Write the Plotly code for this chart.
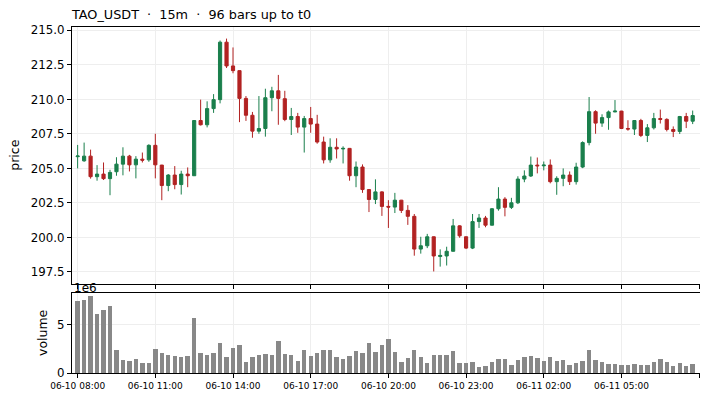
import pandas as pd
import plotly.graph_objects as go
from plotly.subplots import make_subplots

FONT = "DejaVu Sans"
GREEN = "#1a7f4c"
RED = "#b22222"

start = "2024-06-10 08:00"
n_bars = 96

opens = [
    205.85, 205.55, 205.89, 204.40, 204.59, 204.26, 204.76, 205.31, 205.89, 205.26,
    205.67, 205.62, 206.67, 205.24, 203.76, 204.52, 203.83, 204.59, 204.47, 208.47,
    208.16, 209.33, 209.98, 214.14, 212.42, 212.08, 210.07, 208.85, 207.70, 207.89,
    210.12, 210.62, 210.05, 208.54, 208.76, 207.99, 208.61, 208.21, 206.91, 205.62,
    206.53, 206.41, 206.45, 204.47, 205.10, 203.47, 202.75, 203.30, 202.25, 202.20,
    202.70, 201.96, 201.53, 199.16, 199.40, 200.05, 198.62, 198.66, 199.00, 200.84,
    200.05, 199.23, 201.15, 201.41, 200.89, 202.08, 202.78, 202.18, 202.51, 204.23,
    204.45, 205.24, 205.19, 205.24, 204.04, 204.28, 204.52, 204.04, 205.10, 206.87,
    209.11, 208.28, 208.68, 209.09, 209.15, 207.89, 207.85, 208.47, 207.39, 207.94,
    208.61, 208.55, 207.82, 207.68, 208.76, 208.42,
]
closes = [
    205.90, 205.89, 204.40, 204.59, 204.26, 204.71, 205.31, 205.89, 205.26, 205.67,
    205.60, 206.67, 205.26, 203.76, 204.52, 203.83, 204.59, 204.47, 208.47, 208.16,
    209.33, 209.98, 214.14, 212.42, 212.08, 210.07, 208.85, 207.70, 207.89, 210.12,
    210.62, 210.07, 208.54, 208.76, 207.99, 208.61, 208.21, 206.91, 205.62, 206.53,
    206.41, 206.45, 204.47, 205.10, 203.47, 202.75, 203.30, 202.25, 202.20, 202.70,
    201.96, 201.53, 199.16, 199.40, 200.05, 198.66, 198.70, 199.00, 200.84, 200.12,
    199.23, 201.15, 201.41, 200.89, 202.08, 202.78, 202.18, 202.51, 204.23, 204.45,
    205.24, 205.19, 205.24, 204.04, 204.28, 204.52, 204.04, 205.10, 206.87, 209.11,
    208.28, 208.68, 209.09, 209.15, 207.89, 207.85, 208.47, 207.39, 207.94, 208.61,
    208.55, 207.82, 207.68, 208.76, 208.42, 208.83,
]
highs = [
    206.70, 206.87, 206.36, 205.24, 205.43, 204.90, 205.81, 206.53, 205.98, 205.89,
    206.15, 206.75, 207.51, 205.26, 204.59, 205.17, 204.83, 205.07, 208.50, 209.98,
    209.86, 210.38, 214.26, 214.40, 213.76, 212.10, 210.24, 209.09, 210.24, 210.77,
    210.91, 211.77, 210.62, 209.38, 209.02, 208.80, 209.45, 208.88, 207.30, 207.18,
    207.18, 206.60, 206.48, 205.50, 205.29, 203.49, 204.21, 203.35, 202.70, 203.23,
    202.72, 202.34, 201.70, 200.05, 200.26, 200.07, 199.14, 199.33, 201.34, 200.88,
    200.07, 201.70, 201.70, 201.56, 202.13, 203.64, 202.92, 202.87, 204.43, 204.86,
    205.86, 205.79, 205.50, 205.65, 204.43, 205.00, 204.78, 205.41, 206.96, 210.17,
    209.21, 208.92, 209.19, 209.95, 209.17, 208.49, 208.49, 208.59, 208.21, 209.02,
    209.26, 208.63, 208.04, 208.80, 209.02, 209.19,
]
lows = [
    205.00, 205.48, 204.26, 204.11, 204.16, 203.06, 204.47, 204.50, 204.78, 204.28,
    205.43, 205.48, 204.28, 202.70, 203.35, 203.49, 203.11, 203.64, 204.45, 208.11,
    207.97, 209.02, 209.71, 212.27, 211.89, 208.35, 208.44, 207.22, 207.51, 207.30,
    209.14, 208.16, 208.42, 207.42, 207.58, 206.15, 207.58, 206.79, 205.36, 205.41,
    205.72, 205.36, 204.11, 203.64, 203.23, 201.84, 202.42, 201.56, 200.69, 201.77,
    201.77, 200.91, 198.68, 198.83, 199.23, 197.54, 197.89, 197.97, 198.98, 199.98,
    199.16, 199.16, 200.69, 200.74, 200.87, 201.94, 201.53, 202.06, 202.42, 204.00,
    204.38, 204.64, 204.86, 203.92, 203.09, 203.71, 203.80, 203.83, 205.02, 206.67,
    207.51, 208.01, 207.80, 209.07, 207.85, 207.73, 207.42, 207.27, 206.91, 207.82,
    208.25, 207.68, 207.27, 207.49, 207.92, 208.21,
]
# volume in millions
volumes = [
    7.53, 7.64, 8.05, 6.18, 6.60, 7.01, 2.43, 1.39, 1.28, 1.49,
    1.07, 1.07, 2.53, 2.12, 1.91, 1.80, 1.70, 1.80, 5.76, 2.12,
    1.91, 2.12, 3.16, 1.70, 2.64, 2.95, 1.18, 1.70, 1.91, 2.01,
    1.91, 3.37, 2.01, 1.91, 1.28, 2.43, 1.80, 2.12, 2.43, 2.43,
    1.70, 1.49, 1.80, 2.33, 2.12, 3.16, 2.22, 2.95, 3.57, 2.22,
    1.18, 1.59, 2.43, 1.70, 1.07, 1.91, 1.91, 1.91, 2.33, 1.07,
    1.07, 1.18, 0.66, 0.76, 1.18, 1.49, 1.49, 0.87, 1.39, 1.70,
    1.80, 1.59, 1.28, 1.70, 1.28, 1.39, 0.87, 1.07, 1.28, 2.43,
    1.39, 1.18, 0.97, 0.97, 0.87, 0.87, 0.97, 0.87, 0.87, 1.18,
    1.49, 1.18, 0.76, 1.07, 0.76, 0.97,
]

times = pd.date_range(start, periods=n_bars, freq="15min")
bar_ms = 15 * 60 * 1000

fig = make_subplots(rows=2, cols=1, shared_xaxes=True, vertical_spacing=0.0)

fig.add_trace(
    go.Candlestick(
        x=times, open=opens, high=highs, low=lows, close=closes,
        increasing=dict(line=dict(color=GREEN, width=1), fillcolor=GREEN),
        decreasing=dict(line=dict(color=RED, width=1), fillcolor=RED),
        whiskerwidth=0, showlegend=False,
    ),
    row=1, col=1,
)
fig.add_trace(
    go.Bar(
        x=times, y=[v * 1e6 for v in volumes], width=0.68 * bar_ms,
        marker=dict(color="#888888", line=dict(width=0)), showlegend=False,
    ),
    row=2, col=1,
)

x_lo = times[0] - pd.Timedelta(minutes=15 * 0.87)
x_hi = times[-1] + pd.Timedelta(minutes=15 * 1.13)

axis_common = dict(
    showline=True, linecolor="black", linewidth=1, mirror=True,
    ticks="outside", ticklen=4, tickcolor="black", automargin=False,
    showgrid=True, gridcolor="#eeeeee", gridwidth=1, zeroline=False,
)
fig.update_xaxes(
    range=[x_lo, x_hi], dtick=3 * 3600 * 1000, tick0=times[0],
    tickformat="%m-%d %H:%M", rangeslider=dict(visible=False), **axis_common,
)
fig.update_xaxes(showticklabels=False, row=1, col=1)
fig.update_xaxes(tickfont=dict(size=9, family=FONT, color="black"), row=2, col=1)

fig.update_yaxes(
    range=[196.63, 215.24], dtick=2.5, tickformat=".1f",
    tickfont=dict(size=11.8, family=FONT, color="black"),
    domain=[0.2572, 1.0], row=1, col=1, **axis_common,
)
fig.update_yaxes(
    range=[0, 8.33e6], tickvals=[0, 5e6], ticktext=["0", "5"],
    tickfont=dict(size=11.8, family=FONT, color="black"),
    domain=[0.0, 0.2312], row=2, col=1, **axis_common,
)

# the page body adds an 8px margin, so the figure is drawn 8px smaller
fig.update_layout(
    width=700, height=392,
    margin=dict(l=64, r=8, t=19, b=27),
    plot_bgcolor="white", paper_bgcolor="white",
    font=dict(family=FONT, color="black"),
    title=dict(
        text="TAO_USDT  ·  15m  ·  96 bars up to t0",
        x=64 / 700, xanchor="left", y=1 - 7 / 392, yanchor="middle",
        font=dict(size=12.8, family=FONT, color="black"),
    ),
    bargap=0,
    boxgap=0.3,
    annotations=[
        dict(text="price", xref="paper", yref="paper", x=0, y=0.628,
             xanchor="center", yanchor="middle",
             xshift=-57, textangle=-90, showarrow=False,
             font=dict(size=12.5, family=FONT, color="black")),
        dict(text="volume", xref="paper", yref="paper", x=0, y=0.1156,
             xanchor="center", yanchor="middle",
             xshift=-30, textangle=-90, showarrow=False,
             font=dict(size=12.5, family=FONT, color="black")),
        dict(text="1e6", xref="paper", yref="paper", x=0, y=0.2312,
             xanchor="left", yanchor="bottom", yshift=-4, showarrow=False,
             font=dict(size=12, family=FONT, color="black")),
    ],
)

fig.write_html("out.html")
